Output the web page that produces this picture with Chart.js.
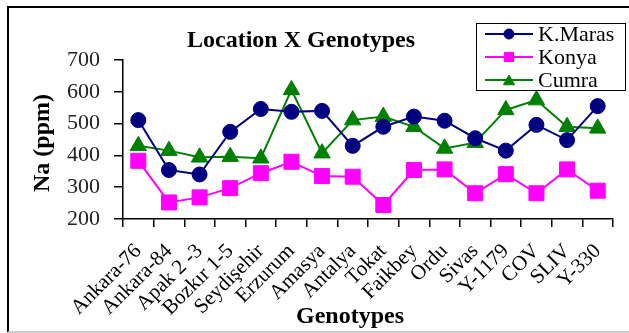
<!DOCTYPE html>
<html>
<head>
<meta charset="utf-8">
<script src="https://cdn.jsdelivr.net/npm/chart.js@4.4.0/dist/chart.umd.min.js"></script>
<style>
  html, body { margin: 0; padding: 0; background: #fff; }
  #wrap { width: 629px; height: 333px; position: relative; }
</style>
</head>
<body>
<div id="wrap"><canvas id="chart" width="629" height="333"></canvas></div>
<script>
// data
const genotypes = ['Ankara-76', 'Ankara-84', 'Apak 2 -3', 'Bozkır 1-5', 'Seydişehir', 'Erzurum',
    'Amasya', 'Antalya', 'Tokat', 'Faikbey', 'Ordu', 'Sivas', 'Y-1179', 'COV', 'SLIV', 'Y-330'];
const kMaras = [511, 354, 340, 474, 546, 537, 540, 430, 490, 522, 509, 454, 415, 496, 448, 555];
const konya = [383, 252, 268, 297, 344, 380, 335, 333, 244, 354, 356, 281, 341, 281, 356, 289];
const cumra = [430, 415, 394, 396, 391, 606, 407, 511, 522, 490, 422, 440, 543, 574, 490, 485];
const yTicks = [200, 300, 400, 500, 600, 700];

const FONT = "'Liberation Serif', 'Times New Roman', serif";

const series = [
    { label: 'K.Maras', data: kMaras, color: '#000080', style: 'circle', radius: 7.5, legendRadius: 5 },
    { label: 'Konya', data: konya, color: '#FF00FF', style: 'rect', radius: 10.6, legendRadius: 6.5 },
    { label: 'Cumra', data: cumra, color: '#008000', style: 'triangle', radius: 9.5, legendRadius: 6.5 }
];

// frame, titles and legend drawn on top of the chart
const decorations = {
    id: 'decorations',
    afterDraw(chart) {
        const ctx = chart.ctx;
        ctx.save();

        // outer frame
        ctx.lineWidth = 2;
        ctx.strokeStyle = '#000';
        ctx.beginPath();
        ctx.moveTo(629, 7);
        ctx.lineTo(8, 7);
        ctx.lineTo(8, 332);
        ctx.stroke();
        ctx.strokeStyle = '#bbb';
        ctx.lineWidth = 1.5;
        ctx.beginPath();
        ctx.moveTo(8, 332);
        ctx.lineTo(629, 332);
        ctx.stroke();

        ctx.fillStyle = '#000';

        // chart title
        ctx.font = 'bold 24px ' + FONT;
        ctx.textAlign = 'center';
        ctx.textBaseline = 'alphabetic';
        ctx.fillText('Location X Genotypes', 301, 47);

        // x axis title
        ctx.fillText('Genotypes', 350, 323);

        // y axis title
        ctx.save();
        ctx.translate(49, 143);
        ctx.rotate(-Math.PI / 2);
        ctx.fillText('Na (ppm)', 0, 0);
        ctx.restore();

        // legend
        ctx.fillStyle = '#fff';
        ctx.fillRect(476, 23, 150, 68);
        ctx.lineWidth = 1;
        ctx.strokeStyle = '#000';
        ctx.strokeRect(476.5, 23.5, 149, 67);

        ctx.font = '22px ' + FONT;
        ctx.textAlign = 'left';
        ctx.textBaseline = 'middle';
        series.forEach((s, i) => {
            const y = 34 + i * 23;
            ctx.strokeStyle = s.color;
            ctx.fillStyle = s.color;
            ctx.lineWidth = 2;
            ctx.beginPath();
            ctx.moveTo(485, y);
            ctx.lineTo(533, y);
            ctx.stroke();
            ctx.lineWidth = 1;
            Chart.helpers.drawPoint(ctx, {
                pointStyle: s.style,
                radius: s.legendRadius,
                rotation: 0,
                borderWidth: 1
            }, 509, s.style === 'triangle' ? y + 1.5 : y);
            ctx.fillStyle = '#000';
            ctx.fillText(s.label, 538, y + 1);
        });

        ctx.restore();
    }
};

const canvas = document.getElementById('chart');

new Chart(canvas, {
    type: 'line',
    data: {
        labels: genotypes,
        datasets: series.map(s => ({
            label: s.label,
            data: s.data,
            borderColor: s.color,
            backgroundColor: s.color,
            borderWidth: 2,
            pointStyle: s.style,
            pointRadius: s.radius,
            pointHoverRadius: s.radius,
            pointBorderWidth: 1,
            pointBackgroundColor: s.color,
            pointBorderColor: s.color,
            tension: 0,
            clip: false
        }))
    },
    options: {
        responsive: false,
        animation: false,
        events: [],
        layout: {
            padding: { left: 0, top: 60, right: 16, bottom: 0 }
        },
        plugins: {
            legend: { display: false },
            title: { display: false },
            tooltip: { enabled: false }
        },
        scales: {
            x: {
                type: 'category',
                offset: true,
                afterFit: (scale) => { scale.height = 114; },
                border: { display: true, color: '#000', width: 1.5 },
                grid: {
                    offset: true,
                    drawOnChartArea: false,
                    drawTicks: true,
                    tickLength: 8,
                    color: '#000',
                    lineWidth: 1.5
                },
                ticks: {
                    autoSkip: false,
                    minRotation: 45,
                    maxRotation: 45,
                    padding: 12,
                    color: '#000',
                    font: { family: FONT, size: 21 }
                }
            },
            y: {
                min: 200,
                max: 700,
                afterFit: (scale) => { scale.width = 123; },
                afterBuildTicks: (scale) => {
                    scale.ticks = yTicks.map(v => ({ value: v }));
                },
                border: { display: true, color: '#000', width: 1.5 },
                grid: {
                    drawOnChartArea: false,
                    drawTicks: true,
                    tickLength: 9,
                    color: '#000',
                    lineWidth: 1.5
                },
                ticks: {
                    padding: 14,
                    color: '#222',
                    font: { family: FONT, size: 22 }
                }
            }
        }
    },
    plugins: [decorations]
});
</script>
</body>
</html>
